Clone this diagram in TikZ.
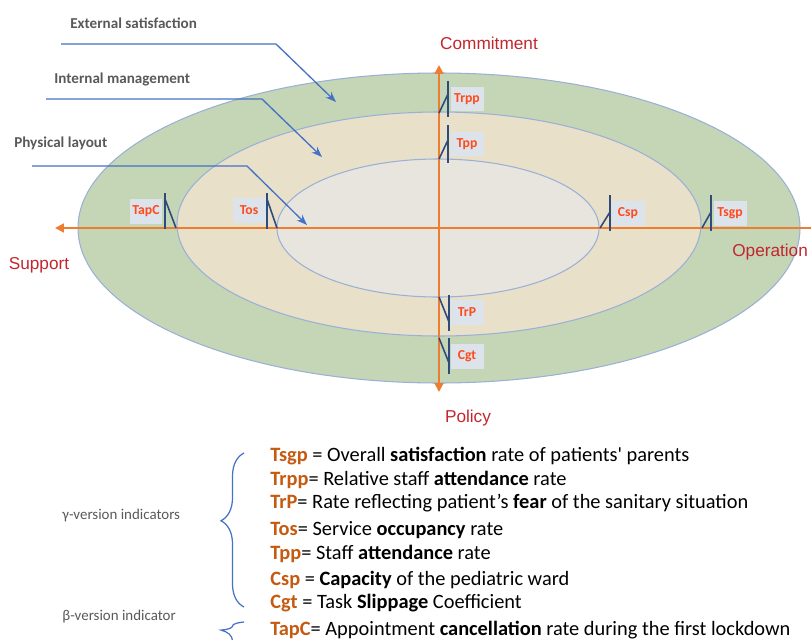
\documentclass[tikz,border=0pt]{standalone}
\usepackage{fontspec}
\setmainfont{Carlito}
\newfontfamily\axisfont{Liberation Sans}
\usetikzlibrary{arrows.meta}
\usetikzlibrary{decorations.pathreplacing}
\definecolor{outerG}{HTML}{C4D6B5}
\definecolor{midB}{HTML}{E9E0CA}
\definecolor{innerG}{HTML}{E8E5DF}
\definecolor{ringline}{HTML}{9AB0D6}
\definecolor{axisO}{HTML}{ED7D31}
\definecolor{axisLab}{HTML}{C3262E}
\definecolor{tagRed}{HTML}{FF4A1C}
\definecolor{tagBox}{HTML}{DDE3EA}
\definecolor{tickBlue}{HTML}{2F4B7C}
\definecolor{callBlue}{HTML}{4472C4}
\definecolor{termBrown}{HTML}{C55A11}
\definecolor{grayText}{HTML}{595959}
\tikzset{
  ring/.style={draw=ringline, line width=0.6pt},
  axisline/.style={draw=axisO, line width=1.1pt},
  axislabel/.style={text=axisLab, font=\axisfont\fontsize{9.8}{11}\selectfont},
  tag/.style={fill=tagBox, text=tagRed, font=\bfseries\fontsize{7.8}{8}\selectfont,
    minimum width=0.66cm, minimum height=0.5cm, inner sep=1pt},
  tick/.style={draw=tickBlue, line width=0.9pt},
  zone/.style={anchor=west, inner sep=0pt, text=grayText, font=\bfseries\fontsize{8.6}{10}\selectfont},
  pointer/.style={draw=callBlue, line width=0.75pt, -{Stealth[length=6pt,width=4.5pt]}},
  term/.style={anchor=west, inner sep=0pt, font=\fontsize{11.6}{13}\selectfont},
  version/.style={anchor=west, inner sep=0pt, text=grayText, font=\fontsize{8.5}{10}\selectfont},
  legbrace/.style={draw=callBlue, line width=0.7pt, decorate},
}
\newcommand{\tm}[1]{\textcolor{termBrown}{\textbf{#1}}}

\begin{document}
\begin{tikzpicture}[x=0.02cm, y=-0.02cm]
        \useasboundingbox (0,0) rectangle (811,639);

        % the three rings
        \fill[outerG] (439,228) ellipse [x radius=361, y radius=155];
        \draw[ring] (439,228) ellipse [x radius=361, y radius=155];
        \fill[midB] (439,224) ellipse [x radius=262, y radius=112];
        \draw[ring] (439,224) ellipse [x radius=262, y radius=112];
        \fill[innerG] (438,228) ellipse [x radius=161, y radius=69];
        \draw[ring] (438,228) ellipse [x radius=161, y radius=69];

        % zone names and their pointers
        \node[zone] (ext) at (70,23) {External satisfaction};
        \node[zone] (int) at (54,79) {Internal management};
        \node[zone] (phy) at (14,143) {Physical layout};
        \coordinate (ext0) at (61,44);  \coordinate (ext1) at (276,44);  \coordinate (ext2) at (336,102);
        \coordinate (int0) at (46,99);  \coordinate (int1) at (262,99);  \coordinate (int2) at (322,157);
        \coordinate (phy0) at (32,166); \coordinate (phy1) at (247,166); \coordinate (phy2) at (307,225);
        \draw[pointer] (ext0) -- (ext1) -- (ext2);
        \draw[pointer] (int0) -- (int1) -- (int2);
        \draw[pointer] (phy0) -- (phy1) -- (phy2);

        % axes
        \coordinate (east) at (811,228);
        \coordinate (west) at (55,228);
        \coordinate (north) at (439,65);
        \coordinate (south) at (439,392);
        \draw[axisline, -{Triangle[length=5pt,width=5pt]}] (east) -- (west);
        \draw[axisline, {Triangle[length=5pt,width=5pt]}-{Triangle[length=5pt,width=5pt]}] (north) -- (south);
        \node[axislabel] (com) at (489,43) {Commitment};
        \node[axislabel, anchor=east, inner sep=1pt] (ope) at (810,252) {Operation};
        \node[axislabel] (sup) at (39,265) {Support};
        \node[axislabel] (pol) at (468,418) {Policy};

        % indicator tags
        \node[tag] (tapc) at (146,211) {TapC};
        \node[tag] (tos) at (249,210) {Tos};
        \node[tag] (trpp) at (467,99) {Trpp};
        \node[tag] (tpp) at (467,144) {Tpp};
        \node[tag] (csp) at (628,213) {Csp};
        \node[tag] (tsgp) at (730,213) {Tsgp};
        \node[tag] (trp) at (467,312) {TrP};
        \node[tag] (cgt) at (467,356) {Cgt};

        % tag bars and their ties to the rings
        \draw[tick] (165,193) -- (165,229);  \draw[tick] (165,199) -- (176,228);
        \draw[tick] (267,193) -- (267,229);  \draw[tick] (267,199) -- (277,228);
        \draw[tick] (448,81) -- (448,117);   \draw[tick] (448,94) -- (439,113);
        \draw[tick] (448,125) -- (448,163);  \draw[tick] (448,140) -- (439,159);
        \draw[tick] (610,195) -- (610,231);  \draw[tick] (610,212) -- (600,228);
        \draw[tick] (711,195) -- (711,231);  \draw[tick] (711,212) -- (702,228);
        \draw[tick] (449,295) -- (449,331);  \draw[tick] (439,297) -- (449,322);
        \draw[tick] (449,338) -- (449,374);  \draw[tick] (439,338) -- (449,363);

        % legend
        \node[term] (l1) at (270,456) {\tm{Tsgp} = Overall \textbf{satisfaction} rate of patients\textquotesingle{} parents};
        \node[term] (l2) at (270,480) {\tm{Trpp}= Relative staff \textbf{attendance} rate};
        \node[term] (l3) at (270,503) {\tm{TrP}= Rate reflecting patient’s \textbf{fear} of the sanitary situation};
        \node[term] (l4) at (270,530) {\tm{Tos}= Service \textbf{occupancy} rate};
        \node[term] (l5) at (270,554) {\tm{Tpp}= Staff \textbf{attendance} rate};
        \node[term] (l6) at (270,580) {\tm{Csp} = \textbf{Capacity} of the pediatric ward};
        \node[term] (l7) at (270,603) {\tm{Cgt} = Task \textbf{Slippage} Coefficient};
        \node[term] (l8) at (270,630) {\tm{TapC}= Appointment \textbf{cancellation} rate during the first lockdown};
        \node[version] (gam) at (62,516) {γ-version indicators};
        \node[version] (bet) at (62,617) {β-version indicator};
        \coordinate (gb0) at (244,607); \coordinate (gb1) at (244,453);
        \coordinate (bb0) at (244,652); \coordinate (bb1) at (244,622);
        \draw[legbrace, decoration={brace, amplitude=0.46cm, aspect=0.56}] (gb0) -- (gb1);
        \draw[legbrace, decoration={brace, amplitude=0.46cm, aspect=0.73}] (bb0) -- (bb1);
    \end{tikzpicture}
\end{document}
